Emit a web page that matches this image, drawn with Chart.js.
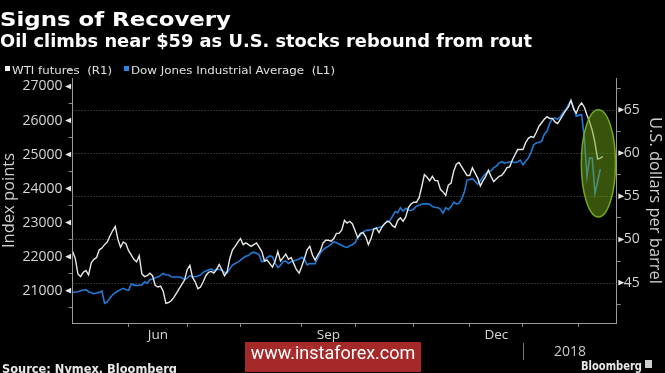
<!DOCTYPE html>
<html><head><meta charset="utf-8">
<script src="https://cdn.jsdelivr.net/npm/chart.js@4.4.1/dist/chart.umd.min.js"></script>
<style>
html,body{margin:0;padding:0;background:#000;}
#wrap{position:relative;width:665px;height:373px;overflow:hidden;background:#000;}
#c{position:absolute;left:0;top:0;}
.t{position:absolute;white-space:pre;line-height:1;transform-origin:0 0;color:#fff;}
.sq{position:absolute;width:5px;height:5px;}
#wm{position:absolute;left:245px;top:342px;width:176px;height:30px;background:rgba(178,44,44,0.93);}
#wmt{position:absolute;left:0;top:0;width:176px;height:30px;line-height:30px;text-align:center;color:#fff;font:18px Roboto;}
</style></head><body>
<div id="wrap">
<canvas id="c" width="665" height="373"></canvas>
<div class="t" data-w="231" style="left:0;top:7px;font:bold 20px 'DejaVu Sans';">Signs of Recovery</div>
<div class="t" data-w="532" style="left:0;top:31px;font:bold 17.5px 'DejaVu Sans Condensed';">Oil climbs near $59 as U.S. stocks rebound from rout</div>
<div class="sq" style="left:5px;top:66px;background:#f0f0f0"></div>
<div class="t" data-w="100" style="left:12px;top:63.5px;font:11px 'DejaVu Sans Condensed';color:#e0e0e0">WTI futures  (R1)</div>
<div class="sq" style="left:124px;top:66px;background:#2a86e6"></div>
<div class="t" data-w="204" style="left:131px;top:63.5px;font:11px 'DejaVu Sans Condensed';color:#e0e0e0">Dow Jones Industrial Average  (L1)</div>
<div class="t" data-w="175" style="left:2px;top:360.5px;font:bold 12.5px 'DejaVu Sans Condensed';color:#e8e8e8">Source: Nymex, Bloomberg</div>
<div class="t" data-w="61" style="left:581px;top:358.5px;font:bold 12px 'DejaVu Sans Condensed';color:#e8e8e8">Bloomberg</div>
<div class="sq" style="left:645px;top:360px;width:7px;height:8px;background:#cfcfcf"></div>
<div id="wm"><div id="wmt">www.instaforex.com</div></div>
</div>
<script>
// ---- data (trading-day index; day 1 = first trading day shown, early May 2017) ----
const wtiStartDay = 1;
const wtiValues = [
48.6,47.8,46.0,45.7,46.2,46.4,45.9,47.3,47.7,47.9,
48.8,49.0,49.4,49.7,50.4,51.0,51.5,50.0,49.1,49.7,
49.5,48.7,48.2,47.7,47.4,48.1,46.0,45.7,45.8,46.1,
45.8,44.7,44.5,44.6,44.0,42.6,42.7,42.9,43.3,43.8,
44.3,44.8,45.3,46.5,47.0,45.6,45.1,44.3,44.5,45.1,
45.8,46.2,46.3,46.1,46.5,47.1,46.5,45.8,46.3,47.8,
48.8,49.2,49.7,50.1,49.4,49.6,49.4,49.2,49.4,49.6,
49.1,48.6,47.5,47.6,47.2,46.8,47.5,48.6,47.5,47.9,
48.3,47.7,47.9,47.2,46.5,46.1,46.9,47.8,48.8,49.2,
48.2,47.6,48.2,48.7,49.6,49.9,49.9,49.8,50.1,50.7,
50.7,51.1,52.2,51.9,52.1,51.8,51.0,50.2,50.7,50.8,
50.3,49.4,50.1,51.2,51.3,50.8,51.4,51.8,52.1,52.0,
51.6,51.4,52.2,52.5,52.1,52.6,53.7,54.1,54.3,54.3,
54.8,56.1,57.5,57.2,56.8,57.3,56.8,56.8,55.8,55.5,
55.1,56.3,56.5,57.9,58.7,58.9,58.4,57.9,57.4,57.4,
58.3,57.7,57.1,56.2,56.8,57.3,58.0,57.3,56.7,57.0,
57.3,57.4,57.8,58.3,58.4,59.2,59.8,60.4,60.4,60.4,
61.2,61.7,61.9,61.8,62.4,63.1,63.5,63.9,64.2,64.0,
64.0,63.6,63.4,63.9,64.4,64.9,65.3,66.1,65.1,64.6,
65.4,65.8,65.3,64.4,63.6,62.6,61.2,59.3,59.4,59.6];
const dowStartDay = 1;
const dowValues = [
20950,20960,20970,21000,21020,21030,20970,20940,20910,20930,
20950,20990,20630,20670,20780,20880,20940,20990,21030,21070,
21030,21010,21190,21170,21150,21160,21170,21260,21220,21320,
21340,21380,21400,21450,21510,21470,21460,21410,21400,21400,
21400,21380,21320,21370,21440,21410,21410,21430,21460,21540,
21580,21610,21640,21580,21640,21620,21600,21540,21520,21640,
21750,21800,21840,21900,21960,22010,22030,22100,22130,22100,
22060,21850,21870,21970,22020,22000,21810,21680,21740,21860,
21870,21800,21850,21870,21900,21930,21980,21920,21760,21800,
21790,21790,21960,22110,22200,22260,22300,22370,22440,22410,
22370,22330,22290,22270,22320,22350,22410,22570,22630,22720,
22770,22780,22790,22810,22840,22860,22880,22960,23030,23060,
23180,23320,23290,23440,23340,23420,23370,23350,23400,23480,
23510,23540,23550,23550,23540,23470,23450,23440,23400,23280,
23440,23380,23470,23600,23550,23570,23700,23900,24250,24270,
24290,24220,24130,24230,24350,24440,24500,24520,24610,24660,
24750,24790,24750,24760,24790,24790,24760,24790,24840,24700,
24800,24900,25060,25290,25340,25360,25390,25600,25680,25920,
26050,26070,26040,26110,26230,26320,26460,26590,26380,26120,
26160,26170,25500,24350,24900,24890,23860,24200,24570];
const monthStartDays = [22,44,64,87,107,129,150,170,191];
const monthNames = ['Jun','Jul','Aug','Sep','Oct','Nov','Dec','Jan'];
const shownMonths = ['Jun','Sep','Dec'];
const yearLabels = ['2017','2018'];
const yearStartDay = 170;
const leftTicks = [21000,22000,23000,24000,25000,26000,27000];
const rightTicks = [45,50,55,60,65];
const highlight = {day:198.3, value:58.8, dayRadius:6.4, valueRadius:6.2};

// ---- build ----
const wtiPts = wtiValues.map((v,i)=>({x:wtiStartDay+i,y:v}));
const dowPts = dowValues.map((v,i)=>({x:dowStartDay+i,y:v}));
const labelDays = {};
monthNames.forEach((m,i)=>{ if(shownMonths.includes(m)) labelDays[(monthStartDays[i]+monthStartDays[i+1])/2]=m; });
const xTickVals = monthStartDays.concat(Object.keys(labelDays).map(Number)).sort((a,b)=>a-b);
const minor = (arr, step) => { const o=[]; arr.forEach(v=>{o.push(v);o.push(v+step);}); o.unshift(arr[0]-step); return o; };
const leftAll = minor(leftTicks,500);
const rightAll = minor(rightTicks,2.5);

const TICK='#8a8a8a', LAB='#d6d6d6', AXF="'Open Sans'";
const overlay = {
  id:'overlay',
  beforeDatasetsDraw(chart){
    const {ctx, chartArea:a, scales:{y2}} = chart;
    ctx.save(); ctx.strokeStyle='#5c5c5c'; ctx.lineWidth=1; ctx.setLineDash([1,2]);
    rightTicks.forEach(v=>{const y=Math.round(y2.getPixelForValue(v))+0.5; ctx.beginPath(); ctx.moveTo(a.left,y); ctx.lineTo(a.right,y); ctx.stroke();});
    ctx.restore();
  },
  afterDatasetsDraw(chart){
    const {ctx, scales:{x,y2}} = chart;
    const cx=x.getPixelForValue(highlight.day), cy=y2.getPixelForValue(highlight.value);
    const rx=x.getPixelForValue(highlight.day+highlight.dayRadius)-cx;
    const ry=cy-y2.getPixelForValue(highlight.value+highlight.valueRadius);
    ctx.save(); ctx.beginPath(); ctx.ellipse(cx,cy,rx,ry,0,0,Math.PI*2);
    ctx.fillStyle='rgba(112,165,22,0.5)'; ctx.fill();
    ctx.strokeStyle='rgba(120,175,30,0.95)'; ctx.lineWidth=1.5; ctx.stroke(); ctx.restore();
  },
  afterDraw(chart){
    const {ctx, chartArea:a, scales:{x,y,y2}} = chart;
    ctx.save(); ctx.fillStyle='#e6e6e6';
    leftTicks.forEach(v=>{const py=y.getPixelForValue(v); ctx.beginPath(); ctx.moveTo(a.left-7.5,py); ctx.lineTo(a.left-1.5,py-2.8); ctx.lineTo(a.left-1.5,py+2.8); ctx.closePath(); ctx.fill();});
    rightTicks.forEach(v=>{const py=y2.getPixelForValue(v); ctx.beginPath(); ctx.moveTo(a.right+7.5,py); ctx.lineTo(a.right+1.5,py-2.8); ctx.lineTo(a.right+1.5,py+2.8); ctx.closePath(); ctx.fill();});
    ctx.font="14px "+AXF; ctx.fillStyle='#c8c8c8'; ctx.textAlign='center'; ctx.textBaseline='middle';
    const bounds=[x.min, yearStartDay, x.max];
    yearLabels.forEach((t,i)=>ctx.fillText(t, x.getPixelForValue((bounds[i]+bounds[i+1])/2), 352));
    const sx=Math.round(x.getPixelForValue(yearStartDay))+0.5;
    ctx.strokeStyle='#777'; ctx.lineWidth=1; ctx.beginPath(); ctx.moveTo(sx,343); ctx.lineTo(sx,360); ctx.stroke();
    ctx.restore();
  }
};

new Chart(document.getElementById('c'), {
  type:'line',
  data:{datasets:[
    {label:'WTI futures (R1)', data:wtiPts, yAxisID:'y2', borderColor:'#e8e8e8', borderWidth:1.4, pointRadius:0, tension:0, order:0},
    {label:'Dow Jones Industrial Average (L1)', data:dowPts, yAxisID:'y', borderColor:'#2179d4', borderWidth:1.6, pointRadius:0, tension:0, order:1}
  ]},
  options:{
    responsive:false, animation:false, events:[],
    layout:{padding:{top:78,left:0,right:0,bottom:0}},
    plugins:{legend:{display:false}, tooltip:{enabled:false}},
    scales:{
      x:{type:'linear', min:1, max:205.2,
        afterBuildTicks:s=>{s.ticks=xTickVals.map(v=>({value:v}));},
        afterFit:s=>{s.height=50;},
        ticks:{autoSkip:false, maxRotation:0, padding:0, color:LAB, font:{family:'Open Sans',size:13.5},
          callback:v=>labelDays[v]||''},
        grid:{drawOnChartArea:false, tickLength:4, tickColor:c=>(c.tick&&labelDays[c.tick.value])?'rgba(0,0,0,0)':TICK},
        border:{color:'#9a9a9a'}},
      y:{type:'linear', position:'left', min:20050, max:27250,
        afterBuildTicks:s=>{s.ticks=leftAll.map(v=>({value:v}));},
        afterFit:s=>{s.width=72.6;},
        ticks:{autoSkip:false, padding:6, color:LAB, font:{family:'Open Sans',size:14}, callback:v=>leftTicks.includes(v)?String(v):''},
        grid:{drawOnChartArea:false, tickLength:4, tickColor:c=>(c.tick&&leftTicks.includes(c.tick.value))?'rgba(0,0,0,0)':TICK},
        border:{color:'#9a9a9a'},
        title:{display:true, text:'Index points', color:'#cfcfcf', font:{family:'Open Sans',size:16.5,lineHeight:1}, padding:{top:1,bottom:0}}},
      y2:{type:'linear', position:'right', min:40.33, max:68.68,
        afterBuildTicks:s=>{s.ticks=rightAll.map(v=>({value:v}));},
        afterFit:s=>{s.width=48.2;},
        ticks:{autoSkip:false, padding:3, color:LAB, font:{family:'Open Sans',size:14}, callback:v=>rightTicks.includes(v)?String(v):''},
        grid:{drawOnChartArea:false, tickLength:4, tickColor:c=>(c.tick&&rightTicks.includes(c.tick.value))?'rgba(0,0,0,0)':TICK},
        border:{color:'#9a9a9a'},
        title:{display:true, text:'U.S. dollars per barrel', color:'#cfcfcf', font:{family:'Open Sans',size:16.5,lineHeight:1}, padding:{top:1.75,bottom:0}}}
    }
  },
  plugins:[overlay]
});

document.querySelectorAll('[data-w]').forEach(el=>{
  const w=el.getBoundingClientRect().width; const target=+el.dataset.w;
  if(w>0) el.style.transform='scaleX('+(target/w).toFixed(4)+')';
});
</script>
</body></html>
